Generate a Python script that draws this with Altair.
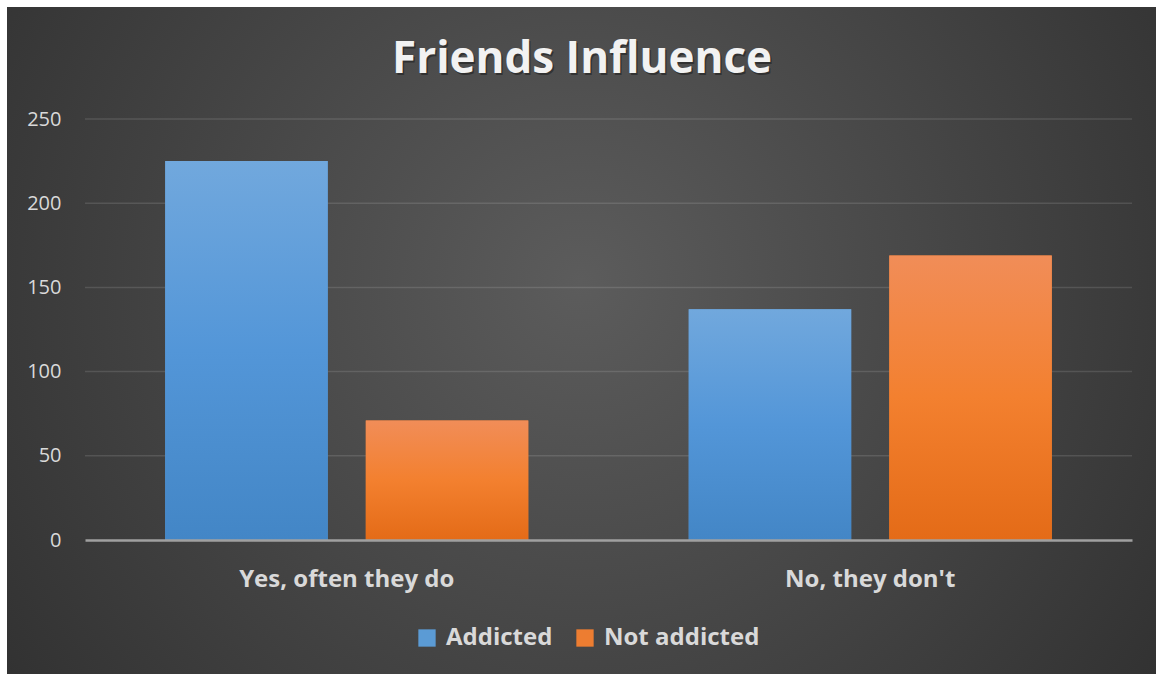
import altair as alt
import pandas as pd

title_text = "Friends Influence"
categories = ["Yes, often they do", "No, they don't"]
series = ["Addicted", "Not addicted"]
addicted = [225, 137]
not_addicted = [71, 169]
y_ticks = [0, 50, 100, 150, 200, 250]

rows = []
for c, a, n in zip(categories, addicted, not_addicted):
    rows.append({"category": c, "series": series[0], "value": a})
    rows.append({"category": c, "series": series[1], "value": n})
df = pd.DataFrame(rows)

W, H = 1047, 421
PAD_L, PAD_T = 85, 119

blue_grad = alt.Gradient(gradient="linear", x1=0, y1=0, x2=0, y2=1,
                         stops=[alt.GradientStop(offset=0, color="#71a8dd"),
                                alt.GradientStop(offset=0.5, color="#5396d8"),
                                alt.GradientStop(offset=1, color="#4386c6")])
orange_grad = alt.Gradient(gradient="linear", x1=0, y1=0, x2=0, y2=1,
                           stops=[alt.GradientStop(offset=0, color="#f18d58"),
                                  alt.GradientStop(offset=0.5, color="#f3802f"),
                                  alt.GradientStop(offset=1, color="#e46b17")])
bg_grad = alt.Gradient(gradient="radial", x1=0.5, y1=0.45, r1=0, x2=0.5, y2=0.45, r2=0.72,
                       stops=[alt.GradientStop(offset=0, color="#5c5c5c"),
                              alt.GradientStop(offset=1, color="#2a2a2a")])

y_axis = alt.Axis(title=None, values=y_ticks, labelFont="Open Sans", labelFontSize=20,
                  labelColor="#d9d9d9", ticks=False, tickSize=0, labelPadding=24,
                  domain=False, grid=False, zindex=1)
y_scale = alt.Scale(domain=[0, 250])

x_enc = alt.X("category:N", sort=categories,
              scale=alt.Scale(paddingInner=0, paddingOuter=0),
              axis=alt.Axis(title=None, labelAngle=0, labelFont="Open Sans", labelFontSize=24,
                            labelFontWeight="bold", labelColor="#d9d9d9", ticks=False, tickSize=0,
                            labelPadding=27, labelLimit=500, domain=True, domainColor="#a0a0a0",
                            domainWidth=2.5, grid=False, zindex=1))
y_enc = alt.Y("value:Q", scale=y_scale, axis=y_axis)
xo_enc = alt.XOffset("series:N", sort=series,
                     scale=alt.Scale(paddingInner=0.19, paddingOuter=0.4))

bg = alt.Chart(pd.DataFrame({"a": [0]})).mark_rect(color=bg_grad).encode(
    x=alt.value(7 - PAD_L), x2=alt.value(1156 - PAD_L),
    y=alt.value(7 - PAD_T), y2=alt.value(674 - PAD_T))

grid = alt.Chart(pd.DataFrame({"value": y_ticks[1:]})).mark_rule(
    color="#ffffff", opacity=0.12, strokeWidth=1.5).encode(
    y=alt.Y("value:Q", scale=y_scale, axis=y_axis),
    x=alt.value(0), x2=alt.value(W))

title_shadow = alt.Chart(pd.DataFrame({"t": [title_text]})).mark_text(
    font="Open Sans", fontSize=44, fontWeight="bold", color="#000000", opacity=0.35,
    baseline="alphabetic", align="center").encode(
    text="t:N", x=alt.value(582 - PAD_L + 1.5), y=alt.value(73 - PAD_T + 2))
title = alt.Chart(pd.DataFrame({"t": [title_text]})).mark_text(
    font="Open Sans", fontSize=44, fontWeight="bold", color="#f2f2f2",
    baseline="alphabetic", align="center").encode(
    text="t:N", x=alt.value(582 - PAD_L), y=alt.value(73 - PAD_T))

bars_legend = alt.Chart(df).mark_bar().encode(
    x=x_enc, y=y_enc, xOffset=xo_enc,
    color=alt.Color("series:N", sort=series,
                    scale=alt.Scale(domain=series, range=["#5b9bd5", "#ed7d31"]),
                    legend=alt.Legend(title=None, orient="none", direction="horizontal",
                                      legendX=330, legendY=507, symbolType="square",
                                      symbolSize=300, symbolStrokeWidth=0, labelFont="Open Sans",
                                      labelFontSize=24, labelFontWeight="bold",
                                      labelColor="#d9d9d9", columnPadding=20, labelOffset=7,
                                      zindex=1)))

bars_grad = alt.Chart(df).mark_bar().encode(
    x=x_enc, y=y_enc, xOffset=xo_enc,
    color=alt.condition(alt.datum.series == "Addicted", alt.value(blue_grad), alt.value(orange_grad)))

chart = alt.layer(bg, grid, bars_legend, bars_grad, title_shadow, title).properties(
    width=W, height=H,
    autosize=alt.AutoSizeParams(type="none"),
    padding={"left": PAD_L, "top": PAD_T, "right": 1156 - PAD_L - W, "bottom": 675 - PAD_T - H},
).configure(background="#ffffff").configure_view(stroke=None)

chart.save("out.html", embed_options={"renderer": "svg", "actions": False})
